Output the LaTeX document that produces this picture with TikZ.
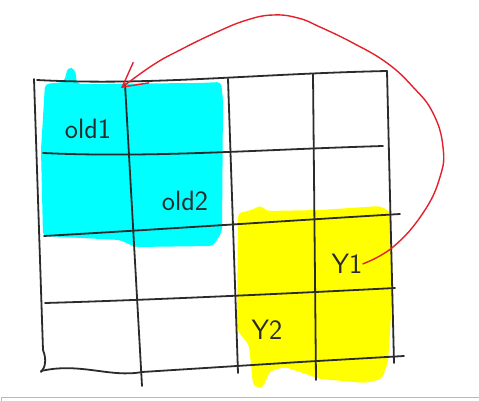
\documentclass[tikz,border=0pt]{standalone}
\usepackage{tikz}
\usetikzlibrary{positioning}
\usetikzlibrary{arrows.meta}
\definecolor{penblack}{HTML}{2B2B2B}
\definecolor{penred}{HTML}{E3202B}
\definecolor{hlcyan}{HTML}{00FFFF}
\definecolor{hlyellow}{HTML}{FFFF00}
\tikzset{
    sketch/.style={
            x=1pt,y=-1pt,
            gridline/.style={penblack,line width=1.8pt,line cap=round},
            marker/.style={rounded corners=4pt},
            scrawl/.style={inner sep=0pt,font=\sffamily\fontsize{28}{28}\selectfont,text=penblack},
            redarrow/.style={penred,line width=1.4pt,-{Straight Barb[length=24pt,width=26pt,line width=1.4pt]}}
        }
    }
\begin{document}
\begin{tikzpicture}[sketch]
                \useasboundingbox (0,0) rectangle (479,401);
                % highlighter marks
                \fill [hlcyan, marker] (45,84) -- (64,82) -- (68,67) -- (75,69) -- (77,84) -- (200,83) -- (221,82)
                    -- (223,100) -- (222,232) -- (213,246) -- (135,247) -- (120,240) -- (43,236) -- (41,150) -- cycle;
                \fill [hlyellow, marker] (238,213) -- (252,210) -- (261,205) -- (266,211) -- (320,210) -- (380,206)
                    -- (391,212) -- (392,300) -- (388,362) -- (382,379) -- (365,383) -- (320,379) -- (300,372)
                    -- (285,367) -- (270,371) -- (262,389) -- (253,385) -- (249,345) -- (237,330) -- cycle;
                % grid
                \draw [gridline] (37,80) .. controls (150,86) and (250,74) .. (387,71);
                \draw [gridline] (43,153) .. controls (150,158) and (250,150) .. (383,146);
                \draw [gridline] (44,236) .. controls (150,230) and (300,220) .. (400,214);
                \draw [gridline] (45,303) .. controls (150,300) and (300,293) .. (395,288);
                \draw [gridline] (41,371) .. controls (80,362) and (110,378) .. (142,372) -- (300,362) -- (404,356);
                \draw [gridline] (34,79) -- (43,350) .. controls (47,360) and (45,368) .. (41,372);
                \draw [gridline] (125,84) -- (142,386);
                \draw [gridline] (228,79) -- (238,373);
                \draw [gridline] (313,74) -- (316,380);
                \draw [gridline] (387,71) -- (394,363);
                % labels
                \node [scrawl] (old1) at (88,129) {old1};
                \node [scrawl] (old2) at (185,201) {old2};
                \node [scrawl] (Y1) at (347,264) {Y1};
                \node [scrawl] (Y2) at (267,330) {Y2};
                \coordinate (corner) at (121,88);
                \draw [redarrow] plot [smooth, tension=0.75] coordinates {(Y1.east) (393,247) (423,213) (440,177) (443,147)
                    (433,113) (413,87) (387,63) (353,43) (320,27) (298,18) (273,15) (247,20) (217,32) (180,50) (153,65) (corner)};
                % screenshot edge
                \draw [gray!55, line width=0.8pt] (1.5,401) -- (1.5,397.5) -- (479,397.5);
\end{tikzpicture}
\end{document}
